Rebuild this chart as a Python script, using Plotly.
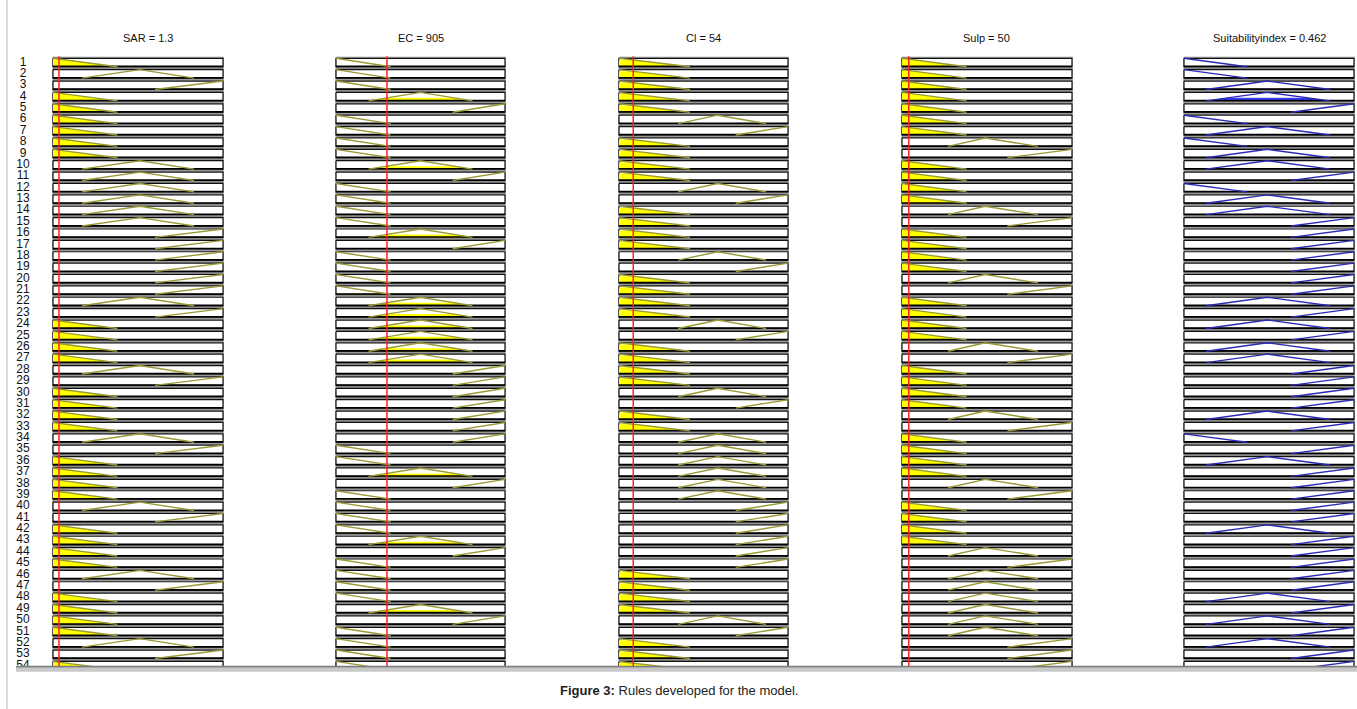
import plotly.graph_objects as go

W, H = 1357, 709

# ---------------- data ----------------
rows = list(range(1, 55))
row_labels = [str(r) for r in rows]

var_names = ["SAR", "EC", "Cl", "Sulp", "Suitabilityindex"]
var_values = [1.3, 905, 54, 50, 0.462]
var_ranges = [[0, 37], [0, 3000], [0, 640], [0, 1250], [0, 1]]

# membership function parameters (triangular a, b, c) per variable
sar_mfs = {"L": (0, 0, 14), "M": (6.3, 18.9, 30.7), "H": (22.2, 37, 37)}
ec_mfs = {"L": (0, 0, 970), "M": (577, 1500, 2423), "H": (2070, 3000, 3000)}
cl_mfs = {"L": (0, 0, 269), "M": (224, 374, 557), "H": (442, 640, 640)}
sulp_mfs = {"L": (0, 0, 475), "M": (338, 612, 1000), "H": (775, 1250, 1250)}
out_mfs = {"L": (0, 0, 0.37), "M": (0.13, 0.49, 0.86), "H": (0.63, 1, 1)}

# rule antecedents / consequents (L = low, M = medium, H = high)
sar_rule = list("LMHLLLLLLMMMMMMHHHHHHMHLLLLMHLLLLMHLLLLMHLLLLMHLLLLMHL")
ec_rule = list("LLLMHLLLLMHLLLLMHLLLLMMMMMMHHHHHHHLLMHLLLLMHLLLLMHLLLLM")
cl_rule = list("LLLLLMHLLLLMHLLLLMHLLLLMHLLLLMHLLMMMMMMHHHHHHLLLLMHLLL")
sulp_rule = list("LLLLLLLMHLLLLMHLLLLMHLLLLMHLLLLMHLLLLMHLLLLMHMMMMMMHHH")
out_rule = list("LLMMHLMLMMHLMMHHHHHHHMHMHMMHHHHMHLHMHHHHHMHHHHHMHMHMHH")

# ---------------- geometry ----------------
def px(x):
    return x / W

def py(y):
    return 1 - y / H

panels_px = [(53, 223), (336, 505), (619, 788), (902, 1072), (1184, 1354)]
title_dx = [10, 0, 0, 0, 0]
row_top_py, row_step = 62.5, 11.38
y_top_py, y_bot_py = 50, 666
y_range = [1 + (y_bot_py - row_top_py) / row_step, 1 + (y_top_py - row_top_py) / row_step]
half = 0.37  # half box height in row units

mf_sets = [sar_mfs, ec_mfs, cl_mfs, sulp_mfs, out_mfs]
rule_sets = [sar_rule, ec_rule, cl_rule, sulp_rule, out_rule]


def tri(x, p):
    a, b, c = p
    if x < a or x > c:
        return 0.0
    if x <= b:
        return 1.0 if b == a else (x - a) / (b - a)
    return 1.0 if c == b else (c - x) / (c - b)


# firing strength of each rule (min of input memberships)
fire = []
for i in range(len(rows)):
    mus = [tri(var_values[k], mf_sets[k][rule_sets[k][i]]) for k in range(4)]
    fire.append(min(mus))

fig = go.Figure()
layout = dict(
    width=W, height=H, margin=dict(l=0, r=0, t=0, b=0),
    paper_bgcolor="white", plot_bgcolor="white", showlegend=False,
)
layout["yaxis"] = dict(domain=[py(y_bot_py), py(y_top_py)], range=y_range,
                       visible=False, fixedrange=True)

line_cols = ["#9a9a36"] * 4 + ["#2a2ab8"]
fill_cols = ["#ffff00"] * 4 + ["#3c3cff"]

for k in range(5):
    ax = "x" if k == 0 else f"x{k + 1}"
    axkey = "xaxis" if k == 0 else f"xaxis{k + 1}"
    lo, hi = var_ranges[k]
    a, b = panels_px[k]
    pad = 2
    scale = (hi - lo) / (b - a)
    layout[axkey] = dict(domain=[px(a - pad), px(b + pad)],
                         range=[lo - pad * scale, hi + pad * scale],
                         anchor="y", visible=False, fixedrange=True)

    # boxes
    gx, gy, bx, by, ux, uy = [], [], [], [], [], []
    for r in rows:
        y0, y1 = r - half, r + half
        e = 0.09
        gx += [lo, hi, hi, lo, lo, None]
        gy += [y0 - e, y0 - e, y1 + e, y1 + e, y0 - e, None]
        bx += [lo, hi, hi, lo, lo, None]
        by += [y0, y0, y1, y1, y0, None]
        ux += [lo, hi, None]
        uy += [y1 - 0.03, y1 - 0.03, None]
    fig.add_trace(go.Scatter(x=gx, y=gy, xaxis=ax, yaxis="y", mode="lines",
                             line=dict(color="#8c8c8c", width=1.2), hoverinfo="skip"))
    fig.add_trace(go.Scatter(x=bx, y=by, xaxis=ax, yaxis="y", mode="lines",
                             fill="toself", fillcolor="white",
                             line=dict(color="#111111", width=1.2), hoverinfo="skip"))

    # fills
    fx, fy = [], []
    for i, r in enumerate(rows):
        p = mf_sets[k][rule_sets[k][i]]
        h = tri(var_values[k], p) if k < 4 else fire[i]
        h = min(h, 1.0)
        if h <= 0.005:
            continue
        a0, b0, c0 = p
        base = r + half
        top = base - 2 * half * h
        fx += [a0, a0 + (b0 - a0) * h, c0 - (c0 - b0) * h, c0, a0, None]
        fy += [base, top, top, base, base, None]
    if fx:
        fig.add_trace(go.Scatter(x=fx, y=fy, xaxis=ax, yaxis="y", mode="lines",
                                 fill="toself", fillcolor=fill_cols[k],
                                 line=dict(width=0), hoverinfo="skip"))

    # heavier bottom edge of each box
    fig.add_trace(go.Scatter(x=ux, y=uy, xaxis=ax, yaxis="y", mode="lines",
                             line=dict(color="#000000", width=1.6), hoverinfo="skip"))

    # MF lines (only the sloped parts)
    mx, my = [], []
    for i, r in enumerate(rows):
        a0, b0, c0 = mf_sets[k][rule_sets[k][i]]
        base = r + half
        top = r - half
        if a0 == b0:
            mx += [a0, c0, None]
            my += [top, base, None]
        elif b0 == c0:
            mx += [a0, c0, None]
            my += [base, top, None]
        else:
            mx += [a0, b0, c0, None]
            my += [base, top, base, None]
    fig.add_trace(go.Scatter(x=mx, y=my, xaxis=ax, yaxis="y", mode="lines",
                             line=dict(color=line_cols[k], width=1.4), hoverinfo="skip"))

    # input value marker
    if k < 4:
        fig.add_trace(go.Scatter(x=[var_values[k], var_values[k]], y=[0.45, y_range[0] + 1],
                                 xaxis=ax, yaxis="y", mode="lines",
                                 line=dict(color="#ff2020", width=1.5), hoverinfo="skip"))

    # panel title
    fig.add_annotation(x=px((a + b) / 2 + title_dx[k]), xref="paper", y=py(38), yref="paper",
                       text=f"{var_names[k]} = {var_values[k]}", showarrow=False,
                       font=dict(family="Liberation Sans, Arial", size=11, color="#111"),
                       xanchor="center", yanchor="middle")

# row numbers on a narrow axis of their own (clipped like the rows)
layout["xaxis6"] = dict(domain=[0, px(48)], range=[0, 48], anchor="y",
                        visible=False, fixedrange=True)
fig.add_trace(go.Scatter(x=[23] * len(rows), y=rows, text=row_labels, mode="text",
                         xaxis="x6", yaxis="y", cliponaxis=True,
                         textfont=dict(family="Liberation Sans, Arial", size=12, color="#111"),
                         hoverinfo="skip"))

# frame + bottom bar + caption
shapes = [
    dict(type="line", xref="paper", yref="paper", x0=px(7), x1=px(7), y0=py(0), y1=py(709),
         line=dict(color="#c4c4c4", width=1.2)),
    dict(type="rect", xref="paper", yref="paper", x0=px(16), x1=1, y0=py(667.7), y1=py(665.7),
         line=dict(width=0), fillcolor="#7e7e7e", layer="above"),
    dict(type="rect", xref="paper", yref="paper", x0=px(16), x1=1, y0=py(671.7), y1=py(667.7),
         line=dict(width=0), fillcolor="#c8c8c8", layer="above"),
]
layout["shapes"] = shapes
fig.update_layout(**layout)
fig.add_annotation(x=px(679), y=py(690), xref="paper", yref="paper",
                   text="<b>Figure 3:</b> Rules developed for the model.", showarrow=False,
                   font=dict(family="Liberation Sans, Arial", size=13, color="#222"),
                   xanchor="center", yanchor="middle")

fig.write_html("out.html", config={"displayModeBar": False},
               post_script="document.body.style.margin='0';document.body.style.overflow='hidden';")
